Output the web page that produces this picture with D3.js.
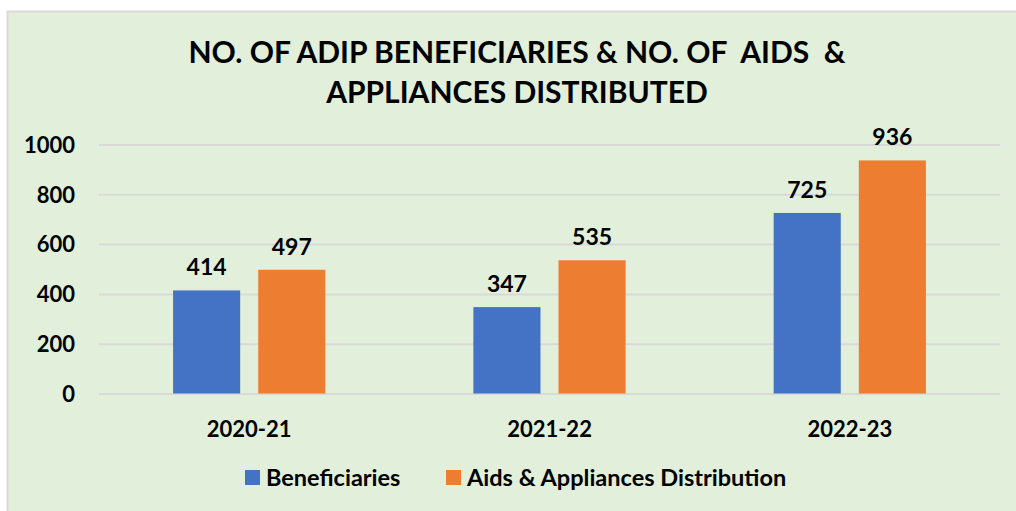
<!DOCTYPE html>
<html><head><meta charset="utf-8">
<script src="https://cdn.jsdelivr.net/npm/d3@7"></script>
<style>body{margin:0;background:#fff}svg{display:block}</style>
</head><body>
<svg id="c" width="1016" height="511"></svg>
<script>
const categories = ["2020-21", "2021-22", "2022-23"];
const seriesNames = ["Beneficiaries", "Aids & Appliances Distribution"];
const beneficiaries = [414, 347, 725];
const aids = [497, 535, 936];
const yTicks = [0, 200, 400, 600, 800, 1000];
const titleLines = ["NO. OF ADIP BENEFICIARIES & NO. OF  AIDS  &", "APPLIANCES DISTRIBUTED"];
const colors = ["#4472C4", "#ED7D31"];

const font = "Lato, 'Open Sans', sans-serif";
const svg = d3.select("#c");
svg.append("rect").attr("x", 7.5).attr("y", 11.5).attr("width", 1020).attr("height", 510)
  .attr("fill", "#E2EFDA").attr("stroke", "#D9D9D9").attr("stroke-width", 2);

const pLeft = 99, pRight = 1000, pTop = 144.5, pBottom = 393.5;
const x = d3.scaleBand().domain(categories).range([pLeft, pRight]).paddingInner(0.493).paddingOuter(0.2467);
const x1 = d3.scaleBand().domain(seriesNames).range([0, x.bandwidth()]).paddingInner(0.212);
const y = d3.scaleLinear().domain([0, 1000]).range([pBottom, pTop]);

// grid
const yAxis = d3.axisLeft(y).tickValues(yTicks).tickSize(-(pRight - pLeft)).tickFormat(d3.format("d"));
const ga = svg.append("g").attr("transform", `translate(${pLeft},0)`).call(yAxis);
ga.select(".domain").remove();
ga.selectAll(".tick line").attr("stroke", "#D9D9D9").attr("stroke-width", 2);
ga.selectAll(".tick text").attr("x", -24).attr("font-family", font).attr("font-weight", "bold")
  .attr("font-size", 22).attr("fill", "#000").attr("dy", "0.35em");

const data = categories.map((c, i) => ({cat: c, vals: [beneficiaries[i], aids[i]]}));
const groups = svg.append("g").selectAll("g").data(data).join("g")
  .attr("transform", d => `translate(${x(d.cat)},0)`);
groups.selectAll("rect").data(d => d.vals.map((v, j) => ({name: seriesNames[j], v, j}))).join("rect")
  .attr("x", d => x1(d.name)).attr("width", x1.bandwidth())
  .attr("y", d => y(d.v)).attr("height", d => y(0) - y(d.v)).attr("fill", d => colors[d.j]);
groups.selectAll("text").data(d => d.vals.map((v, j) => ({name: seriesNames[j], v, j}))).join("text")
  .attr("x", d => x1(d.name) + x1.bandwidth() / 2).attr("y", d => y(d.v) - 15)
  .attr("text-anchor", "middle").attr("font-family", font).attr("font-weight", "bold")
  .attr("font-size", 23).attr("fill", "#000").text(d => d.v);

// x axis
const xAxis = d3.axisBottom(x).tickSize(0);
const gx = svg.append("g").attr("transform", `translate(0,${pBottom})`).call(xAxis);
gx.select(".domain").remove();
gx.selectAll(".tick text").attr("y", 43).attr("dy", 0).attr("font-family", font).attr("font-weight", "bold")
  .attr("font-size", 22).attr("fill", "#000");

// title
svg.append("g").selectAll("text").data(titleLines).join("text")
  .attr("x", 517).attr("y", (d, i) => 63 + i * 40).attr("text-anchor", "middle")
  .attr("font-family", font).attr("font-weight", "bold").attr("font-size", 30).attr("fill", "#000")
  .attr("xml:space", "preserve").style("white-space", "pre").text(d => d);

// legend
const legX = [245, 446];
const lg = svg.append("g").selectAll("g").data(seriesNames).join("g")
  .attr("transform", (d, i) => `translate(${legX[i]},470)`);
lg.append("rect").attr("width", 15).attr("height", 15).attr("fill", (d, i) => colors[i]);
lg.append("text").attr("x", 21).attr("y", 16).attr("font-family", font).attr("font-weight", "bold")
  .attr("font-size", 23.5).attr("fill", "#000").text(d => d);
</script>
</body></html>
